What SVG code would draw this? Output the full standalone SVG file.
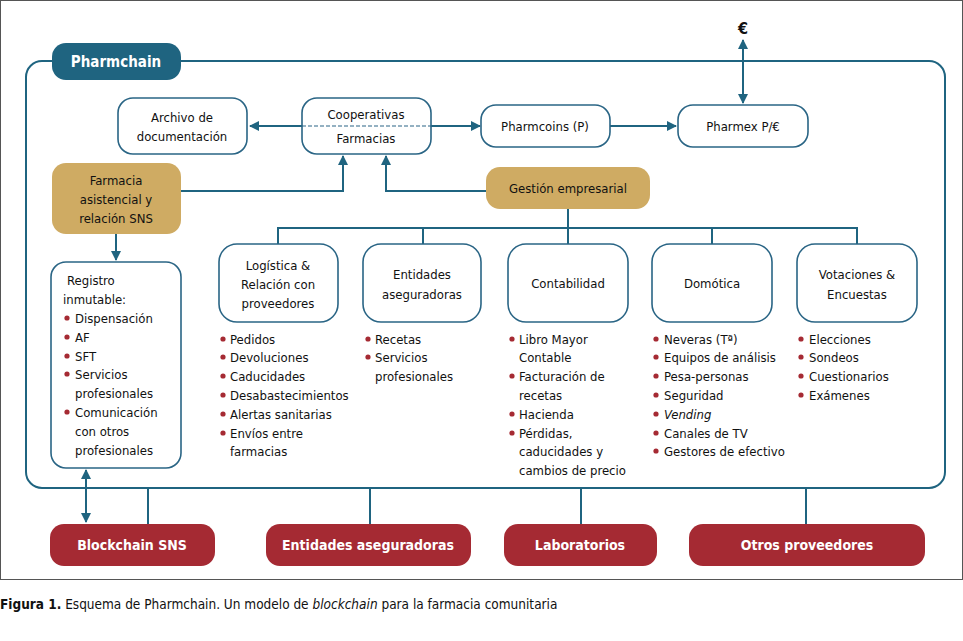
<svg xmlns="http://www.w3.org/2000/svg" width="963" height="641" viewBox="0 0 963 641">
<style>
text{font-family:"DejaVu Sans Condensed","Liberation Sans Narrow","Liberation Sans",sans-serif;font-size:13px;fill:#111}
.c{text-anchor:middle}
.w{fill:#fff;font-weight:bold;font-size:14px}
.box{fill:#fff;stroke:#2a6585;stroke-width:1.6}
.gold{fill:#cfab63}
.red{fill:#a52a33}
.ln{fill:none;stroke:#1f6480;stroke-width:2}
.dot{fill:#a52a33}
</style>
<defs>
<marker id="ah" viewBox="0 0 10 10" refX="9" refY="5" markerWidth="10" markerHeight="10" markerUnits="userSpaceOnUse" orient="auto-start-reverse">
<path d="M0,0 L10,5 L0,10 z" fill="#1f6480"/>
</marker>
</defs>
<rect x="0.5" y="0.5" width="962" height="579" fill="#fff" stroke="#555" stroke-width="1"/>
<rect x="26" y="61" width="919" height="427" rx="16" fill="none" stroke="#1f6480" stroke-width="2"/>

<g id="connectors">
<line class="ln" x1="302" y1="126" x2="250" y2="126" marker-end="url(#ah)"/>
<line class="ln" x1="431" y1="126" x2="480" y2="126" marker-end="url(#ah)"/>
<line class="ln" x1="610" y1="126" x2="676" y2="126" marker-end="url(#ah)"/>
<line class="ln" x1="743" y1="40" x2="743" y2="103" marker-start="url(#ah)" marker-end="url(#ah)"/>
<polyline class="ln" points="181,191 343,191 343,156" marker-end="url(#ah)"/>
<polyline class="ln" points="486,191 386,191 386,156" marker-end="url(#ah)"/>
<line class="ln" x1="568" y1="209" x2="568" y2="228"/>
<line class="ln" x1="278" y1="228" x2="857" y2="228"/>
<line class="ln" x1="278" y1="227" x2="278" y2="244"/>
<line class="ln" x1="423" y1="227" x2="423" y2="244"/>
<line class="ln" x1="568" y1="227" x2="568" y2="244"/>
<line class="ln" x1="712" y1="227" x2="712" y2="244"/>
<line class="ln" x1="857" y1="227" x2="857" y2="244"/>
<line class="ln" x1="116" y1="234" x2="116" y2="260" marker-end="url(#ah)"/>
<line class="ln" x1="86" y1="470" x2="86" y2="522" marker-start="url(#ah)" marker-end="url(#ah)"/>
<line class="ln" x1="148" y1="488" x2="148" y2="524"/>
<line class="ln" x1="370" y1="488" x2="370" y2="524"/>
<line class="ln" x1="581" y1="488" x2="581" y2="524"/>
<line class="ln" x1="806" y1="488" x2="806" y2="524"/>
</g>

<g id="pharmchain">
<rect x="52" y="43" width="129" height="37" rx="14" fill="#1f6480"/>
<text class="c w" x="116" y="67" style="font-size:15px">Pharmchain</text>
</g>

<g id="euro"><text class="c" x="743" y="34" style="font-weight:bold;font-size:16px">€</text></g>

<g id="archivo">
<rect class="box" x="118" y="98" width="129" height="56" rx="15"/>
<text class="c" x="182" y="122">Archivo de</text>
<text class="c" x="182" y="141">documentación</text>
</g>

<g id="cooperativas">
<rect class="box" x="302" y="98" width="129" height="56" rx="15"/>
<line x1="302" y1="126" x2="431" y2="126" stroke="#2a6585" stroke-width="1.2" stroke-dasharray="4,2"/>
<text class="c" x="366" y="119">Cooperativas</text>
<text class="c" x="366" y="143">Farmacias</text>
</g>

<g id="pharmcoins">
<rect class="box" x="481" y="105" width="129" height="42" rx="15"/>
<text class="c" x="545" y="131">Pharmcoins (P)</text>
</g>

<g id="pharmex">
<rect class="box" x="678" y="105" width="130" height="42" rx="15"/>
<text class="c" x="743" y="131">Pharmex P/€</text>
</g>

<g id="farmacia">
<rect class="gold" x="52" y="163" width="129" height="71" rx="14"/>
<text class="c" x="116" y="185">Farmacia</text>
<text class="c" x="116" y="204">asistencial y</text>
<text class="c" x="116" y="223">relación SNS</text>
</g>

<g id="gestion">
<rect class="gold" x="486" y="167" width="164" height="42" rx="14"/>
<text class="c" x="568" y="193">Gestión empresarial</text>
</g>

<g id="registro">
<rect class="box" x="51" y="262" width="130" height="206" rx="15"/>
<text x="67" y="285">Registro</text>
<text x="63" y="304">inmutable:</text>
<circle class="dot" cx="67" cy="318" r="2.6"/><text x="75" y="323">Dispensación</text>
<circle class="dot" cx="67" cy="337" r="2.6"/><text x="75" y="342">AF</text>
<circle class="dot" cx="67" cy="356" r="2.6"/><text x="75" y="361">SFT</text>
<circle class="dot" cx="67" cy="374" r="2.6"/><text x="75" y="379">Servicios</text>
<text x="75" y="398">profesionales</text>
<circle class="dot" cx="67" cy="412" r="2.6"/><text x="75" y="417">Comunicación</text>
<text x="75" y="436">con otros</text>
<text x="75" y="455">profesionales</text>
</g>

<g id="logistica">
<rect class="box" x="219" y="244" width="119" height="78" rx="18"/>
<text class="c" x="278" y="270">Logística &amp;</text>
<text class="c" x="278" y="289">Relación con</text>
<text class="c" x="278" y="308">proveedores</text>
<circle class="dot" cx="223" cy="339" r="2.6"/><text x="230" y="344">Pedidos</text>
<circle class="dot" cx="223" cy="357" r="2.6"/><text x="230" y="362">Devoluciones</text>
<circle class="dot" cx="223" cy="376" r="2.6"/><text x="230" y="381">Caducidades</text>
<circle class="dot" cx="223" cy="395" r="2.6"/><text x="230" y="400">Desabastecimientos</text>
<circle class="dot" cx="223" cy="414" r="2.6"/><text x="230" y="419">Alertas sanitarias</text>
<circle class="dot" cx="223" cy="433" r="2.6"/><text x="230" y="438">Envíos entre</text>
<text x="230" y="456">farmacias</text>
</g>

<g id="entidades">
<rect class="box" x="363" y="244" width="118" height="78" rx="18"/>
<text class="c" x="422" y="279">Entidades</text>
<text class="c" x="422" y="299">aseguradoras</text>
<circle class="dot" cx="368" cy="339" r="2.6"/><text x="375" y="344">Recetas</text>
<circle class="dot" cx="368" cy="357" r="2.6"/><text x="375" y="362">Servicios</text>
<text x="375" y="381">profesionales</text>
</g>

<g id="contabilidad">
<rect class="box" x="508" y="244" width="120" height="78" rx="18"/>
<text class="c" x="568" y="288">Contabilidad</text>
<circle class="dot" cx="512" cy="339" r="2.6"/><text x="519" y="344">Libro Mayor</text>
<text x="519" y="362">Contable</text>
<circle class="dot" cx="512" cy="376" r="2.6"/><text x="519" y="381">Facturación de</text>
<text x="519" y="400">recetas</text>
<circle class="dot" cx="512" cy="414" r="2.6"/><text x="519" y="419">Hacienda</text>
<circle class="dot" cx="512" cy="433" r="2.6"/><text x="519" y="438">Pérdidas,</text>
<text x="519" y="456">caducidades y</text>
<text x="519" y="475">cambios de precio</text>
</g>

<g id="domotica">
<rect class="box" x="652" y="244" width="120" height="78" rx="18"/>
<text class="c" x="712" y="288">Domótica</text>
<circle class="dot" cx="656" cy="339" r="2.6"/><text x="664" y="344">Neveras (Tª)</text>
<circle class="dot" cx="656" cy="357" r="2.6"/><text x="664" y="362">Equipos de análisis</text>
<circle class="dot" cx="656" cy="376" r="2.6"/><text x="664" y="381">Pesa-personas</text>
<circle class="dot" cx="656" cy="395" r="2.6"/><text x="664" y="400">Seguridad</text>
<circle class="dot" cx="656" cy="414" r="2.6"/><text x="664" y="419" font-style="italic">Vending</text>
<circle class="dot" cx="656" cy="433" r="2.6"/><text x="664" y="438">Canales de TV</text>
<circle class="dot" cx="656" cy="451" r="2.6"/><text x="664" y="456">Gestores de efectivo</text>
</g>

<g id="votaciones">
<rect class="box" x="797" y="244" width="120" height="78" rx="18"/>
<text class="c" x="857" y="279">Votaciones &amp;</text>
<text class="c" x="857" y="299">Encuestas</text>
<circle class="dot" cx="801" cy="339" r="2.6"/><text x="809" y="344">Elecciones</text>
<circle class="dot" cx="801" cy="357" r="2.6"/><text x="809" y="362">Sondeos</text>
<circle class="dot" cx="801" cy="376" r="2.6"/><text x="809" y="381">Cuestionarios</text>
<circle class="dot" cx="801" cy="395" r="2.6"/><text x="809" y="400">Exámenes</text>
</g>

<g id="blockchain-sns">
<rect class="red" x="50" y="524" width="165" height="42" rx="14"/>
<text class="c w" x="132" y="550">Blockchain SNS</text>
</g>
<g id="entidades-aseguradoras">
<rect class="red" x="266" y="524" width="205" height="42" rx="14"/>
<text class="c w" x="368" y="550">Entidades aseguradoras</text>
</g>
<g id="laboratorios">
<rect class="red" x="504" y="524" width="153" height="42" rx="14"/>
<text class="c w" x="580" y="550">Laboratorios</text>
</g>
<g id="otros">
<rect class="red" x="689" y="524" width="236" height="42" rx="14"/>
<text class="c w" x="807" y="550">Otros proveedores</text>
</g>

<g id="caption">
<text x="0" y="609" style="font-size:13.5px"><tspan font-weight="bold">Figura 1.</tspan> Esquema de Pharmchain. Un modelo de <tspan font-style="italic">blockchain</tspan> para la farmacia comunitaria</text>
</g>
</svg>
